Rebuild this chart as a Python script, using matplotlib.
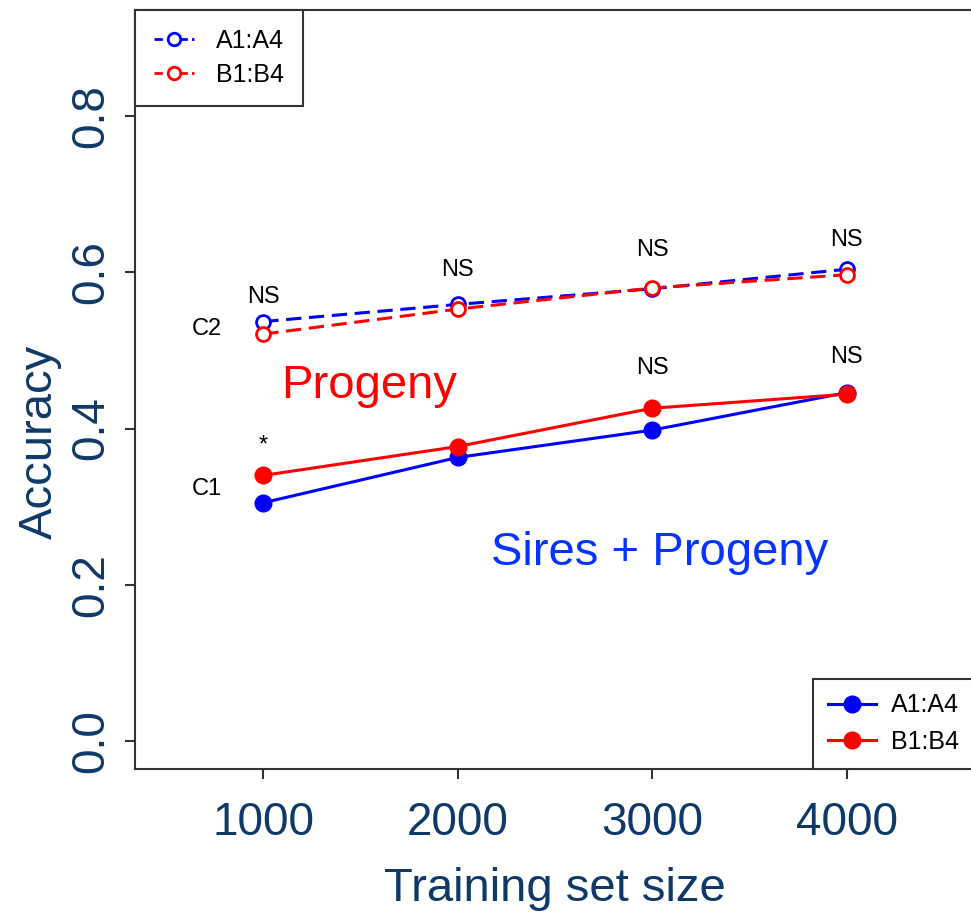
import matplotlib
matplotlib.use("Agg")
import matplotlib.pyplot as plt
from matplotlib.lines import Line2D

plt.rcParams["font.family"] = ["Liberation Sans", "DejaVu Sans"]

# training set sizes
sizes = [1000, 2000, 3000, 4000]

# C2 (dashed, open markers)
c2_a = [0.537, 0.559, 0.579, 0.604]
c2_b = [0.521, 0.553, 0.580, 0.597]

# C1 (solid, filled markers)
c1_a = [0.305, 0.363, 0.398, 0.446]
c1_b = [0.340, 0.377, 0.426, 0.444]

# significance labels and their heights
sig_c2 = ["NS", "NS", "NS", "NS"]
sig_c2_y = [0.569, 0.603, 0.629, 0.641]
sig_c1 = ["*", "", "NS", "NS"]
sig_c1_y = [0.378, None, 0.477, 0.492]

yticks = [0.0, 0.2, 0.4, 0.6, 0.8]
navy = "#0F3967"
blue = "#0000FF"
red = "#FF0000"
dash = (0, (5, 2.5))

fig = plt.figure(figsize=(9.71, 9.17), dpi=100)
ax = fig.add_axes([135 / 971, 1 - 769 / 917, 840 / 971, 759 / 917])

ax.plot(sizes, c2_a, color=blue, ls=dash, lw=2.2, marker="o",
        mfc="white", mec=blue, mew=2, ms=10, zorder=3)
ax.plot(sizes, c2_b, color=red, ls=dash, lw=2.2, marker="o",
        mfc="white", mec=red, mew=2, ms=10, zorder=3)
ax.plot(sizes, c1_a, color=blue, lw=2.2, marker="o", ms=12, zorder=3)
ax.plot(sizes, c1_b, color=red, lw=2.2, marker="o", ms=12, zorder=3)

for x, s, y in zip(sizes, sig_c2, sig_c2_y):
    ax.text(x, y, s, ha="center", va="center", fontsize=17)
for x, s, y in zip(sizes, sig_c1, sig_c1_y):
    if s:
        ax.text(x, y, s, ha="center", va="center", fontsize=17)

ax.text(707, 0.527, "C2", ha="center", va="center", fontsize=17)
ax.text(707, 0.322, "C1", ha="center", va="center", fontsize=17)

ax.text(1092, 0.454, "Progeny", color=red, fontsize=34, ha="left", va="center")
ax.text(2171, 0.241, "Sires + Progeny", color="#0533FF", fontsize=34,
        ha="left", va="center")

ax.set_xlim(340, 4660)
ax.set_ylim(-0.036, 0.936)
ax.set_xticks(sizes)
ax.set_xticklabels([str(s) for s in sizes])
ax.set_yticks(yticks)
ax.set_yticklabels([f"{t:.1f}" for t in yticks], rotation=90, va="center")
ax.tick_params(axis="both", direction="out", length=7, width=1.5,
               color="#333333", labelsize=33, labelcolor=navy, pad=9)
ax.tick_params(axis="x", pad=16)

for side in ["left", "bottom", "top"]:
    ax.spines[side].set_color("#333333")
    ax.spines[side].set_linewidth(1.5)
ax.spines["right"].set_visible(False)

ax.set_xlabel("Training set size", fontsize=34, color=navy, labelpad=16)
ax.set_ylabel("Accuracy", fontsize=34, color=navy)
ax.yaxis.set_label_coords(-0.087, 0.431)

h_open = [
    Line2D([], [], color=blue, ls=(0, (3, 1.5)), lw=2, marker="o", mfc="white",
           mec=blue, mew=2, ms=9),
    Line2D([], [], color=red, ls=(0, (3, 1.5)), lw=2, marker="o", mfc="white",
           mec=red, mew=2, ms=9),
]
leg1 = ax.legend(h_open, ["A1:A4", "B1:B4"], loc="upper left",
                 bbox_to_anchor=(0, 1), borderaxespad=0, fontsize=18,
                 fancybox=False, edgecolor="#333333", framealpha=1,
                 handlelength=1.6, handletextpad=0.9, borderpad=0.75,
                 labelspacing=0.4)
leg1.get_frame().set_linewidth(1.5)
ax.add_artist(leg1)

h_fill = [
    Line2D([], [], color=blue, lw=2.2, marker="o", ms=12),
    Line2D([], [], color=red, lw=2.2, marker="o", ms=12),
]
leg2 = ax.legend(h_fill, ["A1:A4", "B1:B4"], loc="lower left",
                 bbox_to_anchor=((813 - 135) / 840, 0), borderaxespad=0,
                 fontsize=18, fancybox=False, edgecolor="#333333",
                 framealpha=1, handlelength=1.9, handletextpad=0.6,
                 borderpad=0.6, labelspacing=0.5)
leg2.get_frame().set_linewidth(1.5)

fig.savefig("out.png", dpi=100)
